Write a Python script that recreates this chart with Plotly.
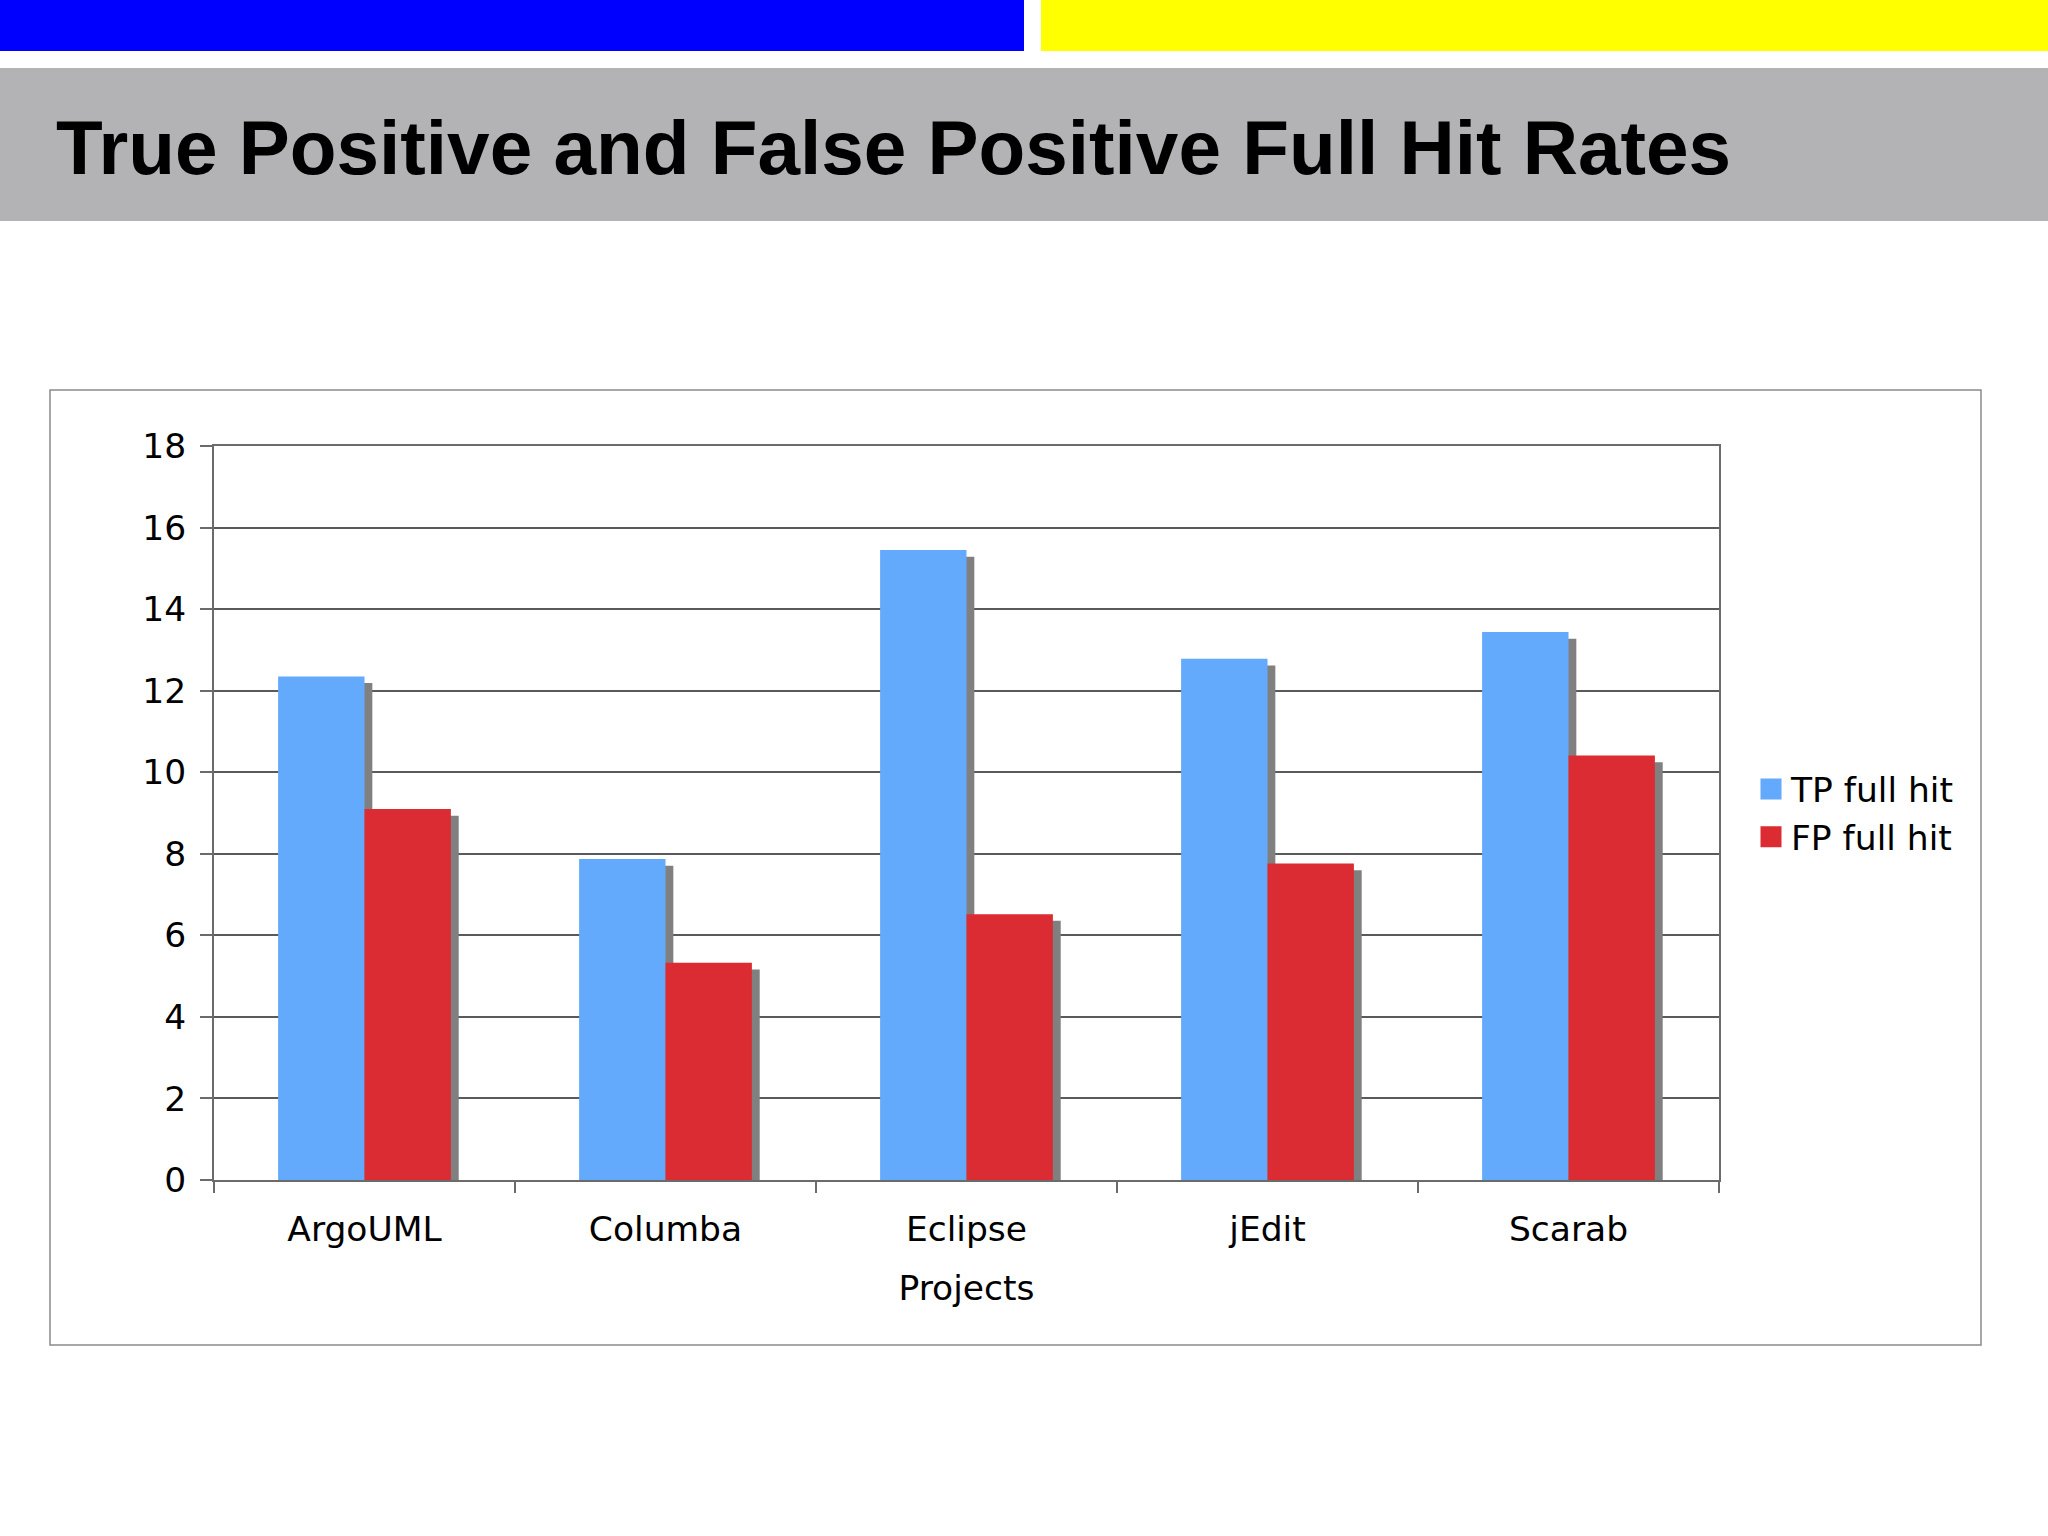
import plotly.graph_objects as go

projects = ["ArgoUML", "Columba", "Eclipse", "jEdit", "Scarab"]
tp_full_hit = [12.35, 7.87, 15.45, 12.78, 13.44]
fp_full_hit = [9.10, 5.33, 6.52, 7.76, 10.41]
series_names = ["TP full hit", "FP full hit"]
y_ticks = [0, 2, 4, 6, 8, 10, 12, 14, 16, 18]

W, H = 2048, 1536
ML, MR, MT, MB = 214, 329, 446, 356
PW, PH = W - ML - MR, H - MT - MB


def px_x(px):
    return (px - ML) / PW


def px_y(py):
    return (H - MB - py) / PH


TP_COLOR = "#63a9fc"
FP_COLOR = "#dc2c33"
SHADOW = "#808080"
BAR_W = 0.287
SH_DX = 0.026
SH_DY = 0.165
FONT = "DejaVu Sans"

fig = go.Figure()
# drop shadows (derived from the same data)
fig.add_trace(go.Bar(x=projects, y=[v - SH_DY for v in tp_full_hit], width=BAR_W,
                     offset=-BAR_W + SH_DX, marker=dict(color=SHADOW, line=dict(width=0)),
                     showlegend=False, hoverinfo="skip", legendgroup="tp"))
fig.add_trace(go.Bar(x=projects, y=[v - SH_DY for v in fp_full_hit], width=BAR_W,
                     offset=SH_DX, marker=dict(color=SHADOW, line=dict(width=0)),
                     showlegend=False, hoverinfo="skip", legendgroup="fp"))
fig.add_trace(go.Bar(x=projects, y=tp_full_hit, name=series_names[0], width=BAR_W,
                     offset=-BAR_W, marker=dict(color=TP_COLOR, line=dict(width=0)),
                     showlegend=False, legendgroup="tp"))
fig.add_trace(go.Bar(x=projects, y=fp_full_hit, name=series_names[1], width=BAR_W,
                     offset=0, marker=dict(color=FP_COLOR, line=dict(width=0)),
                     showlegend=False, legendgroup="fp"))
# legend entries with larger square swatches
for name, col, grp in [(series_names[0], TP_COLOR, "tp"), (series_names[1], FP_COLOR, "fp")]:
    fig.add_trace(go.Scatter(x=[None], y=[None], mode="markers", name=name, legendgroup=grp,
                             marker=dict(symbol="square", size=16, color=col,
                                         line=dict(color=col, width=5)),
                             hoverinfo="skip"))

shapes = [
    dict(type="rect", xref="paper", yref="paper", x0=px_x(0), x1=px_x(1024),
         y0=px_y(0), y1=px_y(51), fillcolor="#0000ff", line=dict(width=0), layer="below"),
    dict(type="rect", xref="paper", yref="paper", x0=px_x(1041), x1=px_x(2048),
         y0=px_y(0), y1=px_y(51), fillcolor="#ffff00", line=dict(width=0), layer="below"),
    dict(type="rect", xref="paper", yref="paper", x0=px_x(0), x1=px_x(2048),
         y0=px_y(68), y1=px_y(221), fillcolor="#b3b2b4", line=dict(width=0), layer="below"),
    dict(type="rect", xref="paper", yref="paper", x0=px_x(50), x1=px_x(1981),
         y0=px_y(390), y1=px_y(1345), fillcolor="rgba(0,0,0,0)",
         line=dict(color="#8a8a8a", width=1.5), layer="below"),
]

annotations = [
    dict(text="<b>True Positive and False Positive Full Hit Rates</b>", xref="paper", yref="paper",
         x=px_x(54), y=px_y(147), xanchor="left", yanchor="middle", showarrow=False,
         font=dict(family="Liberation Sans", size=76.5, color="#000000")),
]

fig.update_layout(
    width=W, height=H,
    margin=dict(l=ML, r=MR, t=MT, b=MB, pad=0),
    paper_bgcolor="#ffffff", plot_bgcolor="#ffffff",
    barmode="overlay",
    font=dict(family=FONT, size=34.5, color="#000000"),
    shapes=shapes,
    annotations=annotations,
    legend=dict(x=px_x(1751), y=0.5, xanchor="left", yanchor="middle",
                font=dict(family=FONT, size=34.5, color="#000000"),
                bgcolor="rgba(0,0,0,0)", tracegroupgap=0, itemsizing="trace"),
    xaxis=dict(
        type="category", showgrid=False, zeroline=False,
        showline=True, linecolor="#6b6b6b", linewidth=2, mirror=True,
        ticks="outside", tickson="boundaries", ticklen=11, tickcolor="#6b6b6b", tickwidth=2,
        ticklabelstandoff=18,
        title=dict(text="Projects", font=dict(family=FONT, size=34.5), standoff=27),
    ),
    yaxis=dict(
        range=[0, 18], tickvals=y_ticks, ticktext=[str(v) for v in y_ticks],
        showgrid=True, gridcolor="#5a5a5a", gridwidth=1.5, zeroline=False,
        showline=True, linecolor="#6b6b6b", linewidth=2, mirror=True,
        ticks="outside", ticklen=12, tickcolor="#6b6b6b", tickwidth=2,
        ticklabelstandoff=7,
    ),
)

fig.write_html("out.html", config={"displayModeBar": False},
               post_script="document.body.style.margin='0';")
